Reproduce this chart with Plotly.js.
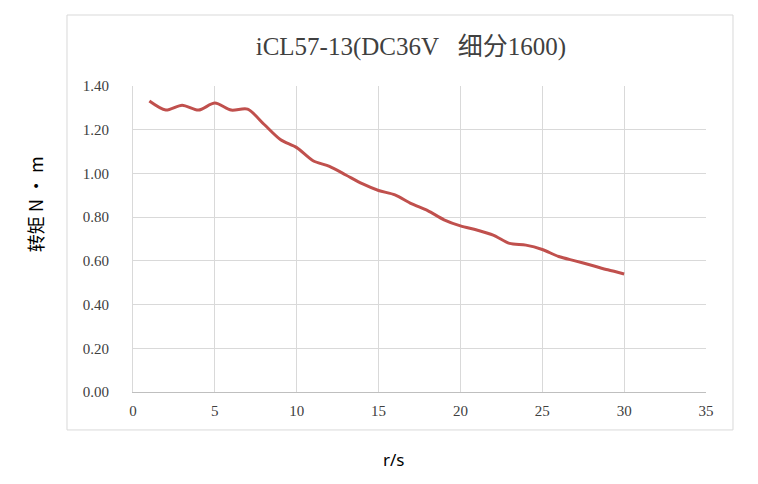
<!DOCTYPE html>
<html>
<head>
<meta charset="utf-8">
<script src="https://cdn.plot.ly/plotly-3.0.1.min.js"></script>
<style>html,body{margin:0;padding:0;background:#fff;}#chart{width:758px;height:484px;}</style>
</head>
<body>
<div id="chart"></div>
<script>
const speed = [1,2,3,4,5,6,7,8,9,10,11,12,13,14,15,16,17,18,19,20,21,22,23,24,25,26,27,28,29,30];
const torque = [1.331,1.290,1.312,1.290,1.322,1.290,1.294,1.225,1.155,1.118,1.058,1.032,0.993,0.953,0.922,0.902,0.862,0.830,0.788,0.760,0.741,0.718,0.680,0.672,0.652,0.620,0.600,0.580,0.559,0.540];
const yTicks = [0,0.2,0.4,0.6,0.8,1.0,1.2,1.4];
const yTickText = ['0.00','0.20','0.40','0.60','0.80','1.00','1.20','1.40'];
const xTicks = [0,5,10,15,20,25,30,35];
const chartTitle = 'iCL57-13(DC36V\u00a0\u00a0\u00a0细分1600)';
const xTitle = 'r/s';
const yTitle = '转矩 N • m';

const serif = '"Liberation Serif", "Noto Sans CJK SC", serif';
const trace = {
  x: speed, y: torque, type: 'scatter', mode: 'lines',
  line: {color: '#c0504d', width: 3, shape: 'spline', smoothing: 0.8},
  hoverinfo: 'skip'
};
const layout = {
  width: 758, height: 484,
  margin: {l: 133, r: 52, t: 86, b: 92},
  paper_bgcolor: '#fff', plot_bgcolor: '#fff',
  showlegend: false,
  title: {text: chartTitle, xref: 'paper', x: 0.485, xanchor: 'center', y: 0.905, yanchor: 'middle',
          font: {family: serif, size: 25, color: '#404040'}},
  xaxis: {range: [0, 35], tickvals: xTicks, ticktext: xTicks.map(String), showgrid: true, gridcolor: '#d9d9d9', gridwidth: 1,
          zeroline: false, showline: true, linecolor: '#bfbfbf', linewidth: 1, ticks: '',
          tickfont: {family: serif, size: 15, color: '#404040'}, ticklabelstandoff: 5},
  yaxis: {range: [0, 1.4], tickvals: yTicks, ticktext: yTickText, showgrid: true, gridcolor: '#d9d9d9', gridwidth: 1,
          zeroline: false, showline: true, linecolor: '#d9d9d9', linewidth: 1, ticks: '',
          tickfont: {family: serif, size: 15, color: '#404040'}, ticklabelstandoff: 20},
  annotations: [
    {text: xTitle, xref: 'paper', yref: 'paper', x: 0.4555, y: -0.222, xanchor: 'center', yanchor: 'middle', showarrow: false,
     font: {family: '"Noto Sans", sans-serif', size: 17, color: '#000'}},
    {text: yTitle, xref: 'paper', yref: 'paper', x: -0.171, y: 0.614, xanchor: 'center', yanchor: 'middle', showarrow: false,
     textangle: -90, font: {family: '"Noto Sans CJK SC", sans-serif', size: 18, color: '#000'}}
  ],
  shapes: [{type: 'rect', xref: 'paper', yref: 'paper', x0: -0.1152, x1: 1.0471, y0: -0.124, y1: 1.232,
            line: {color: '#d9d9d9', width: 1}, fillcolor: 'rgba(0,0,0,0)', layer: 'below'}]
};
Plotly.newPlot('chart', [trace], layout, {staticPlot: true, displayModeBar: false});
</script>
</body>
</html>
